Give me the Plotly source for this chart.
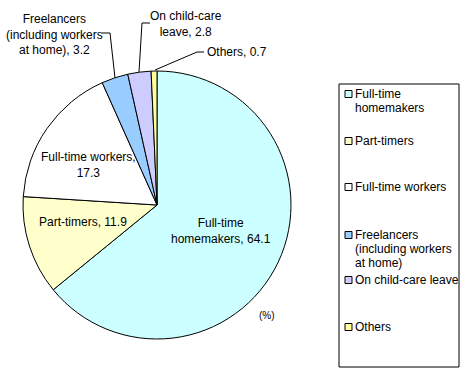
import plotly.graph_objects as go

W, H = 473, 381

categories = ["Full-time homemakers", "Part-timers", "Full-time workers",
              "Freelancers (including workers at home)", "On child-care leave", "Others"]
values = [64.1, 11.9, 17.3, 3.2, 2.8, 0.7]
colors = ["#CCFFFF", "#FFFFCC", "#FFFFFF", "#99CCFF", "#CCCCFF", "#FFFF99"]
legend_labels = [["Full-time", "homemakers"], ["Part-timers"], ["Full-time workers"],
                 ["Freelancers", "(including workers", "at home)"], ["On child-care leave"], ["Others"]]
slice_labels = ["Full-time<br>homemakers, {v}", "Part-timers, {v}", "Full-time workers,<br>{v}",
                "Freelancers<br>(including workers<br>at home), {v}", "On child-care<br>leave, {v}",
                "Others, {v}"]

FONT = "Liberation Sans, Arial, sans-serif"
FS = 12


def px(x):
    return x / W


def py(y):
    return 1 - y / H


fig = go.Figure()
fig.add_trace(go.Pie(
    labels=categories, values=values, sort=False, direction="clockwise", rotation=0,
    marker=dict(colors=colors, line=dict(color="black", width=1)),
    textinfo="none", hoverinfo="label+value", showlegend=False,
    domain=dict(x=[px(23), px(291)], y=[py(339), py(71)]),
))

annotations = []
shapes = []

# slice label positions (pixel centres) and anchors
label_pos = [
    (221, 231, "center"),
    (83, 222, "center"),
    (88, 165, "center"),
    (54, 34, "center"),
    (186, 24, "center"),
    (205, 52, "left"),
]
for (x, y, anc), tpl, v in zip(label_pos, slice_labels, values):
    annotations.append(dict(
        x=px(x), y=py(y), xref="paper", yref="paper", text=tpl.format(v=v),
        showarrow=False, xanchor=anc, yanchor="middle", align="center",
        font=dict(family=FONT, size=FS, color="black")))

annotations.append(dict(x=px(267), y=py(315), xref="paper", yref="paper", text="(%)",
                        showarrow=False, xanchor="center", yanchor="middle",
                        font=dict(family=FONT, size=FS - 2, color="black")))

# leader lines
leaders = [
    [(102, 33), (110, 33), (115, 78)],
    [(150, 23), (142, 23), (139, 72)],
    [(204, 52), (197, 52), (155, 70)],
]
for pts in leaders:
    path = "M " + " L ".join(f"{px(a)},{py(b)}" for a, b in pts)
    shapes.append(dict(type="path", path=path, xref="paper", yref="paper",
                       line=dict(color="black", width=1)))

# legend box
shapes.append(dict(type="rect", xref="paper", yref="paper", x0=px(339), x1=px(459),
                   y0=py(367), y1=py(84), line=dict(color="black", width=1),
                   fillcolor="white"))
legend_y = [94, 141, 187, 235, 280, 327]
LINE = 14
for lines, col, y in zip(legend_labels, colors, legend_y):
    shapes.append(dict(type="rect", xref="paper", yref="paper", x0=px(345), x1=px(352),
                       y0=py(y + 3.5), y1=py(y - 3.5), line=dict(color="black", width=1),
                       fillcolor=col))
    for i, t in enumerate(lines):
        annotations.append(dict(x=px(353), y=py(y + i * LINE), xref="paper", yref="paper", text=t,
                                showarrow=False, xanchor="left", yanchor="middle", align="left",
                                font=dict(family=FONT, size=FS, color="black")))

fig.update_layout(
    width=W, height=H, margin=dict(l=0, r=0, t=0, b=0),
    paper_bgcolor="white", plot_bgcolor="white",
    annotations=annotations, shapes=shapes, showlegend=False,
)
fig.write_html("out.html", post_script="document.body.style.margin='0';",
               config={"displayModeBar": False})
